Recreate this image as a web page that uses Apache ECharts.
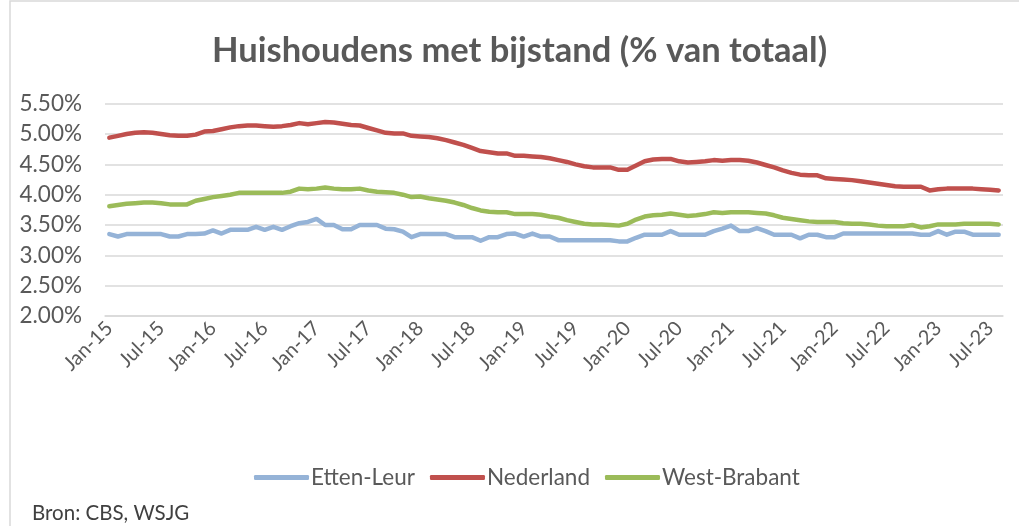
<!DOCTYPE html>
<html>
<head>
<meta charset="utf-8">
<script src="https://cdn.jsdelivr.net/npm/echarts@6/dist/echarts.min.js"></script>
<style>html,body{margin:0;padding:0;background:#fff;}#c{width:1019px;height:526px;}</style>
</head>
<body>
<div id="c"></div>
<script>
const monthNames = ['Jan','Feb','Mar','Apr','May','Jun','Jul','Aug','Sep','Oct','Nov','Dec'];
const startYear = 2015;
const pointCount = 104; // Jan-15 .. Aug-23

const ettenLeur = [
  3.35,3.31,3.35,3.35,3.35,3.35,3.35,3.31,3.31,3.35,3.35,3.36,
  3.41,3.36,3.42,3.42,3.42,3.47,3.42,3.47,3.42,3.48,3.53,3.55,
  3.60,3.50,3.50,3.43,3.43,3.50,3.50,3.50,3.44,3.43,3.39,3.30,
  3.35,3.35,3.35,3.35,3.30,3.30,3.30,3.24,3.30,3.30,3.35,3.36,
  3.31,3.36,3.31,3.31,3.25,3.25,3.25,3.25,3.25,3.25,3.25,3.23,
  3.23,3.29,3.34,3.34,3.34,3.40,3.34,3.34,3.34,3.34,3.40,3.44,
  3.49,3.40,3.40,3.45,3.40,3.34,3.34,3.34,3.28,3.34,3.34,3.30,
  3.30,3.36,3.36,3.36,3.36,3.36,3.36,3.36,3.36,3.36,3.34,3.34,
  3.40,3.34,3.39,3.39,3.34,3.34,3.34,3.34
];
const nederland = [
  4.94,4.97,5.00,5.02,5.03,5.02,5.00,4.98,4.97,4.97,4.99,5.04,
  5.05,5.08,5.11,5.13,5.14,5.14,5.13,5.12,5.13,5.15,5.18,5.16,
  5.18,5.20,5.19,5.17,5.15,5.14,5.10,5.06,5.02,5.01,5.01,4.97,
  4.96,4.95,4.93,4.90,4.86,4.82,4.77,4.72,4.70,4.68,4.68,4.64,
  4.64,4.63,4.62,4.60,4.57,4.54,4.50,4.47,4.45,4.45,4.45,4.41,
  4.41,4.48,4.55,4.58,4.59,4.59,4.55,4.53,4.54,4.55,4.57,4.56,
  4.57,4.57,4.56,4.53,4.49,4.45,4.40,4.36,4.33,4.32,4.32,4.27,
  4.26,4.25,4.24,4.22,4.20,4.18,4.16,4.14,4.13,4.13,4.13,4.07,
  4.09,4.10,4.10,4.10,4.10,4.09,4.08,4.07
];
const westBrabant = [
  3.81,3.83,3.85,3.86,3.87,3.87,3.86,3.84,3.84,3.84,3.90,3.93,
  3.96,3.98,4.00,4.03,4.03,4.03,4.03,4.03,4.03,4.05,4.10,4.09,
  4.10,4.12,4.10,4.09,4.09,4.10,4.07,4.05,4.04,4.03,4.00,3.96,
  3.97,3.94,3.92,3.90,3.87,3.83,3.78,3.74,3.72,3.71,3.71,3.68,
  3.68,3.68,3.67,3.64,3.62,3.58,3.55,3.52,3.51,3.51,3.50,3.49,
  3.52,3.59,3.64,3.66,3.67,3.69,3.67,3.65,3.66,3.68,3.71,3.70,
  3.71,3.71,3.71,3.70,3.69,3.66,3.62,3.60,3.58,3.56,3.55,3.55,
  3.55,3.53,3.52,3.52,3.51,3.49,3.48,3.48,3.48,3.50,3.46,3.48,
  3.51,3.51,3.51,3.52,3.52,3.52,3.52,3.51
];
const seriesNames = ['Etten-Leur','Nederland','West-Brabant'];
const seriesColors = ['#95b3d7','#c0504d','#9bbb59'];
const yTicks = [2.0,2.5,3.0,3.5,4.0,4.5,5.0,5.5];

const categories = [];
for (let i = 0; i < pointCount; i++) {
  const m = i % 12, y = startYear + Math.floor(i / 12);
  categories.push(monthNames[m] + '-' + String(y).slice(2));
}

const FONT = 'Lato';
const chart = echarts.init(document.getElementById('c'), null, {renderer: 'canvas'});
const seriesData = [ettenLeur, nederland, westBrabant];
chart.setOption({
  animation: false,
  backgroundColor: '#ffffff',
  title: {
    text: 'Huishoudens met bijstand (% van totaal)',
    left: 207, top: 28,
    textStyle: {fontFamily: FONT, fontWeight: 'bold', fontSize: 34.5, color: '#595959'}
  },
  legend: {
    bottom: 32, left: 249,
    icon: 'roundRect', itemWidth: 55, itemHeight: 5, itemGap: 15,
    textStyle: {fontFamily: FONT, fontSize: 22.5, color: '#595959', padding: [0,0,0,-3]},
    data: seriesNames
  },
  grid: {left: 105, right: 16, top: 103.7, bottom: 210, containLabel: false},
  xAxis: {
    type: 'category', data: categories, boundaryGap: true,
    axisLine: {show: true, lineStyle: {color: '#d9d9d9', width: 1.5}},
    axisTick: {show: false},
    axisLabel: {
      interval: 5, rotate: 45, margin: 9,
      fontFamily: FONT, fontSize: 20, color: '#595959'
    },
    splitLine: {show: false}
  },
  yAxis: {
    type: 'value', min: yTicks[0], max: yTicks[yTicks.length-1], interval: 0.5,
    axisLine: {show: false}, axisTick: {show: false},
    axisLabel: {
      margin: 23, fontFamily: FONT, fontSize: 22.5, color: '#595959',
      padding: [8,0,0,0],
      formatter: v => v.toFixed(2) + '%'
    },
    splitLine: {lineStyle: {color: '#d9d9d9', width: 1.5}}
  },
  series: seriesNames.map((n, k) => ({
    name: n, type: 'line', data: seriesData[k],
    showSymbol: false, symbol: 'none',
    lineStyle: {color: seriesColors[k], width: 4.5, cap: 'round', join: 'round'},
    itemStyle: {color: seriesColors[k]},
    z: k === 0 ? 2 : 3
  })),
  graphic: [
    {type: 'rect', shape: {x: 10, y: 1, width: 1020, height: 540},
     style: {fill: 'none', stroke: '#d9d9d9', lineWidth: 1.5}, silent: true},
    {type: 'text', left: 32, top: 503,
     style: {text: 'Bron: CBS, WSJG', fontFamily: FONT, fontSize: 20.5, fill: '#404040'}}
  ]
});
</script>
</body>
</html>
